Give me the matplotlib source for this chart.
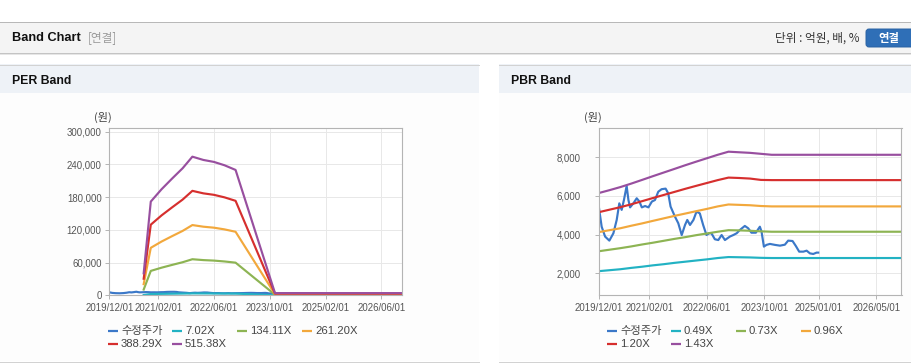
import matplotlib
matplotlib.use("Agg")
import matplotlib.pyplot as plt
import pandas as pd
from matplotlib.patches import Rectangle, FancyBboxPatch
from matplotlib.lines import Line2D

plt.rcParams['font.family'] = ['Liberation Sans', 'Noto Sans CJK KR', 'DejaVu Sans']

W, H = 912, 364

# ---------------- data ----------------
price_dates = ["2019-12-04", "2019-12-26", "2020-01-24", "2020-02-29", "2020-04-03", "2020-05-01",
               "2020-05-23", "2020-06-12", "2020-07-01", "2020-07-24", "2020-08-08", "2020-08-22",
               "2020-09-19", "2020-10-17", "2020-11-09", "2020-11-29", "2020-12-27", "2021-01-24",
               "2021-02-22", "2021-03-20", "2021-04-17", "2021-05-15", "2021-06-18", "2021-07-10",
               "2021-07-30", "2021-09-05", "2021-10-03", "2021-11-01", "2021-11-29", "2021-12-18",
               "2022-01-10", "2022-02-08", "2022-03-06", "2022-04-03", "2022-05-01", "2022-05-29",
               "2022-06-21", "2022-07-10", "2022-08-08", "2022-09-06", "2022-10-04", "2022-11-01",
               "2022-12-13", "2023-01-11", "2023-02-08", "2023-03-07", "2023-04-18", "2023-05-16",
               "2023-06-13", "2023-07-20", "2023-08-23", "2023-09-06", "2023-09-26", "2023-10-18",
               "2023-11-16", "2023-12-28", "2024-02-09", "2024-03-21", "2024-04-18", "2024-05-25",
               "2024-06-22", "2024-07-20", "2024-08-24", "2024-09-21", "2024-10-19", "2024-11-16",
               "2024-12-14", "2024-12-28"]
price_values = [5360, 4410, 3900, 3690, 4070, 4760, 5620, 5280, 5790, 6520, 5790, 5410,
                5620, 5880, 5710, 5410, 5480, 5410, 5710, 5790, 6220, 6350, 6380, 6140,
                5450, 4930, 4590, 3980, 4500, 4760, 4500, 4760, 5190, 5100, 4500, 3980,
                4070, 4070, 3760, 3720, 3980, 3720, 3900, 3980, 4070, 4240, 4450, 4330,
                4100, 4100, 4410, 4160, 3380, 3470, 3520, 3470, 3430, 3480, 3690, 3670,
                3410, 3120, 3120, 3170, 3030, 3000, 3070, 3070]

per_dates = ["2020-09-26", "2020-11-27", "2021-03-01", "2021-06-01", "2021-09-01", "2021-11-25",
             "2022-03-01", "2022-06-01", "2022-09-01", "2022-12-07", "2023-11-16", "2026-12-01"]
per_band_7 = [550, 2340, 2650, 2910, 3170, 3460, 3380, 3330, 3250, 3130, 55, 55]
per_band_134 = [10500, 44700, 50600, 55700, 60600, 66100, 64500, 63600, 62000, 59800, 1040, 1040]
per_band_261 = [20400, 87000, 98500, 108400, 118000, 128700, 125700, 123900, 120800, 116400, 2030, 2030]
per_band_388 = [30400, 129400, 146400, 161100, 175400, 191400, 186800, 184100, 179500, 173100, 3000, 3000]
per_band_515 = [40300, 171700, 194300, 213900, 232800, 254000, 248000, 244400, 238300, 229700, 4000, 4000]
per_labels = ["수정주가", "7.02X", "134.11X", "261.20X", "388.29X", "515.38X"]
per_ticks = ["2019/12/01", "2021/02/01", "2022/06/01", "2023/10/01", "2025/02/01", "2026/06/01"]
per_yticks = [0, 60000, 120000, 180000, 240000, 300000]

pbr_dates = ["2019-12-01", "2020-03-01", "2020-06-01", "2020-09-01", "2020-12-01", "2021-03-01",
             "2021-06-01", "2021-09-01", "2021-12-01", "2022-03-01", "2022-06-01", "2022-09-01",
             "2022-12-01", "2023-03-01", "2023-06-01", "2023-09-01", "2023-12-01", "2026-12-01"]
pbr_band_049 = [2110, 2160, 2210, 2280, 2340, 2410, 2470, 2540, 2600, 2660, 2720, 2790, 2840, 2830, 2820, 2800, 2790, 2790]
pbr_band_073 = [3140, 3220, 3300, 3390, 3490, 3580, 3680, 3780, 3870, 3970, 4060, 4150, 4230, 4220, 4200, 4170, 4150, 4150]
pbr_band_096 = [4130, 4230, 4330, 4460, 4580, 4710, 4840, 4970, 5090, 5210, 5330, 5460, 5560, 5540, 5520, 5480, 5460, 5460]
pbr_band_120 = [5160, 5290, 5420, 5570, 5730, 5890, 6050, 6210, 6370, 6520, 6670, 6820, 6950, 6930, 6900, 6830, 6820, 6820]
pbr_band_143 = [6150, 6300, 6460, 6640, 6830, 7020, 7210, 7400, 7590, 7770, 7950, 8130, 8290, 8260, 8230, 8180, 8130, 8130]
pbr_labels = ["수정주가", "0.49X", "0.73X", "0.96X", "1.20X", "1.43X"]
pbr_ticks = ["2019/12/01", "2021/02/01", "2022/06/01", "2023/10/01", "2025/01/01", "2026/05/01"]
pbr_yticks = [2000, 4000, 6000, 8000]

colors = ["#3b78c8", "#22b2c3", "#8db453", "#f2a83c", "#d62f2e", "#984f9f"]

# ---------------- figure ----------------
fig = plt.figure(figsize=(W / 100, H / 100), dpi=100)
fig.patch.set_facecolor("white")


def rect(x0, y0, x1, y1, color):
    fig.add_artist(Rectangle((x0 / W, 1 - y1 / H), (x1 - x0) / W, (y1 - y0) / H,
                             transform=fig.transFigure, facecolor=color, edgecolor="none", zorder=-10))


def hline(x0, x1, y, color, lw=1.0):
    fig.add_artist(Line2D([x0 / W, x1 / W], [1 - y / H, 1 - y / H], transform=fig.transFigure,
                          color=color, lw=lw * 0.72, zorder=-5))


# top bar
rect(0, 22, 912, 53, "#f4f4f4")
hline(0, 912, 22.3, "#b8b8b8")
hline(0, 912, 53.2, "#c4c4c4")
hline(0, 912, 54.2, "#e6e6e6")
fig.text(12 / W, 1 - 38 / H, "Band Chart", fontsize=9.2, fontweight="bold", color="#111",
         va="center", ha="left")
fig.text(88 / W, 1 - 38 / H, "[연결]", fontsize=8.4, color="#9a9a9a", va="center", ha="left",
         family=["Noto Sans CJK KR"])
fig.text(860 / W, 1 - 38.5 / H, "단위 : 억원, 배, %", fontsize=8.4, color="#333", va="center", ha="right",
         family=["Noto Sans CJK KR", "DejaVu Sans"])
fig.add_artist(FancyBboxPatch((866, H - 47), 50, 18, boxstyle="round,pad=0,rounding_size=3",
                              transform=None, facecolor="#2f6fb7", edgecolor="#2a62a3", lw=0.7,
                              zorder=-4))
fig.text(889 / W, 1 - 38.5 / H, "연결", fontsize=8.2, fontweight="bold", color="white", va="center",
         ha="center", family=["Noto Sans CJK KR"])

# panels
for (x0, x1, title) in [(0, 479, "PER Band"), (499, 912, "PBR Band")]:
    rect(x0, 64, x1, 93, "#eef2f7")
    rect(x0, 93, x1, 361, "#fdfdfd")
    hline(x0, x1, 64.5, "#d2d2d2")
    hline(x0, x1, 361.5, "#d2d2d2")
    fig.text((x0 + 12) / W, 1 - 80.5 / H, title, fontsize=8.8, fontweight="bold", color="#111",
             va="center", ha="left")


def make_axes(left, right, top, bottom):
    ax = fig.add_axes([left / W, 1 - bottom / H, (right - left) / W, (bottom - top) / H])
    ax.set_facecolor("white")
    for s in ax.spines.values():
        s.set_color("#b4b4b4")
        s.set_linewidth(0.8)
    ax.grid(True, color="#e8e8e8", lw=0.7)
    ax.set_axisbelow(True)
    ax.tick_params(axis="both", length=3, width=0.7, color="#b4b4b4", labelsize=6.9, labelcolor="#555")
    ax.set_xlim(pd.Timestamp("2019-12-01"), pd.Timestamp("2026-12-01"))
    return ax


lw = 1.55
pdates = pd.to_datetime(price_dates)

# PER
ax1 = make_axes(109.3, 402.3, 128.3, 295.3)
perd = pd.to_datetime(per_dates)
ax1.plot(pdates, price_values, color=colors[0], lw=lw)
for vals, c in zip([per_band_7, per_band_134, per_band_261, per_band_388, per_band_515], colors[1:]):
    ax1.plot(perd, vals, color=c, lw=lw)
ax1.set_ylim(0, 306000)
ax1.set_yticks(per_yticks)
ax1.set_yticklabels([f"{v:,}" for v in per_yticks])
ax1.set_xticks(pd.to_datetime(per_ticks))
ax1.set_xticklabels(per_ticks)
ax1.tick_params(axis="y", pad=2.5)
ax1.tick_params(axis="x", pad=2.5)
fig.text(103 / W, 1 - 117 / H, "(원)", fontsize=8, color="#444", ha="center", va="center",
         family=["Noto Sans CJK KR"])

# PBR
ax2 = make_axes(598.7, 901.5, 128.3, 295.3)
pbrd = pd.to_datetime(pbr_dates)
ax2.plot(pdates, price_values, color=colors[0], lw=lw)
for vals, c in zip([pbr_band_049, pbr_band_073, pbr_band_096, pbr_band_120, pbr_band_143], colors[1:]):
    ax2.plot(pbrd, vals, color=c, lw=lw)
ax2.set_ylim(862, 9500)
ax2.set_yticks(pbr_yticks)
ax2.set_yticklabels([f"{v:,}" for v in pbr_yticks])
ax2.set_xticks(pd.to_datetime(pbr_ticks))
ax2.set_xticklabels(pbr_ticks)
ax2.tick_params(axis="y", pad=10)
ax2.tick_params(axis="x", pad=2.5)
fig.text(593 / W, 1 - 117 / H, "(원)", fontsize=8, color="#444", ha="center", va="center",
         family=["Noto Sans CJK KR"])


# legends (manual, fixed columns)
def legend(x0, labels):
    cols = [0, 64, 129, 194]
    rows = [330.7, 344.3]
    for i, lab in enumerate(labels):
        r, c = divmod(i, 4)
        x = x0 + cols[c]
        y = rows[r]
        fig.add_artist(Line2D([x / W, (x + 10) / W], [1 - y / H, 1 - y / H], transform=fig.transFigure,
                              color=colors[i], lw=1.6, solid_capstyle="butt"))
        fig.text((x + 13) / W, 1 - y / H, lab, fontsize=8.1, color="#444", ha="left", va="center",
                 family=["Liberation Sans", "Noto Sans CJK KR"])


legend(108, per_labels)
legend(607, pbr_labels)

fig.savefig("out.png", dpi=100)
